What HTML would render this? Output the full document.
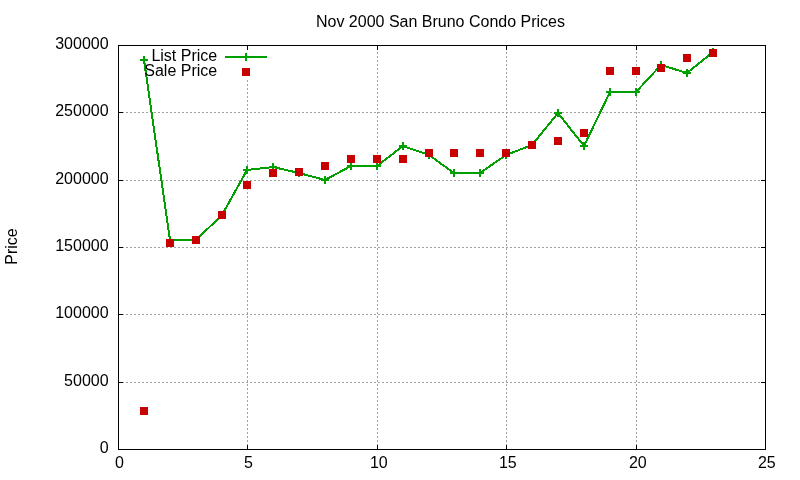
<!DOCTYPE html>
<html lang="en"><head><meta charset="utf-8"><title>Nov 2000 San Bruno Condo Prices</title>
<style>
html,body{margin:0;padding:0;background:#fff;}
body{width:800px;height:480px;overflow:hidden;}
svg{display:block;}
text{font-family:"Liberation Sans",sans-serif;font-size:16px;fill:#000;}
</style></head><body>
<svg width="800" height="480" viewBox="0 0 800 480">
<rect x="0" y="0" width="800" height="480" fill="#ffffff"/>

<g shape-rendering="crispEdges" stroke="#a0a0a0" stroke-width="1" fill="none" stroke-dasharray="2 2">
<line x1="122" y1="382.5" x2="761" y2="382.5"/>
<line x1="122" y1="314.5" x2="761" y2="314.5"/>
<line x1="122" y1="247.5" x2="761" y2="247.5"/>
<line x1="122" y1="180.5" x2="761" y2="180.5"/>
<line x1="122" y1="112.5" x2="761" y2="112.5"/>
<line x1="247.5" y1="80" x2="247.5" y2="445"/>
<line x1="377.5" y1="52" x2="377.5" y2="445"/>
<line x1="506.5" y1="52" x2="506.5" y2="445"/>
<line x1="636.5" y1="52" x2="636.5" y2="445"/>
</g>
<g shape-rendering="crispEdges" stroke="#000" stroke-width="1" fill="none">
<rect x="118.5" y="45.5" width="647" height="404"/>
<line x1="119" y1="449.5" x2="123" y2="449.5"/><line x1="761" y1="449.5" x2="765" y2="449.5"/>
<line x1="119" y1="382.5" x2="123" y2="382.5"/><line x1="761" y1="382.5" x2="765" y2="382.5"/>
<line x1="119" y1="314.5" x2="123" y2="314.5"/><line x1="761" y1="314.5" x2="765" y2="314.5"/>
<line x1="119" y1="247.5" x2="123" y2="247.5"/><line x1="761" y1="247.5" x2="765" y2="247.5"/>
<line x1="119" y1="180.5" x2="123" y2="180.5"/><line x1="761" y1="180.5" x2="765" y2="180.5"/>
<line x1="119" y1="112.5" x2="123" y2="112.5"/><line x1="761" y1="112.5" x2="765" y2="112.5"/>
<line x1="119" y1="45.5" x2="123" y2="45.5"/><line x1="761" y1="45.5" x2="765" y2="45.5"/>
<line x1="118.5" y1="445" x2="118.5" y2="449"/><line x1="118.5" y1="46" x2="118.5" y2="50"/>
<line x1="247.5" y1="445" x2="247.5" y2="449"/><line x1="247.5" y1="46" x2="247.5" y2="50"/>
<line x1="377.5" y1="445" x2="377.5" y2="449"/><line x1="377.5" y1="46" x2="377.5" y2="50"/>
<line x1="506.5" y1="445" x2="506.5" y2="449"/><line x1="506.5" y1="46" x2="506.5" y2="50"/>
<line x1="636.5" y1="445" x2="636.5" y2="449"/><line x1="636.5" y1="46" x2="636.5" y2="50"/>
<line x1="765.5" y1="445" x2="765.5" y2="449"/><line x1="765.5" y1="46" x2="765.5" y2="50"/>
</g>
<text x="440.5" y="26.5" text-anchor="middle">Nov 2000 San Bruno Condo Prices</text>
<text transform="translate(17.2,246.5) rotate(-90)" text-anchor="middle">Price</text>
<text x="108.6" y="453.1" text-anchor="end">0</text>
<text x="108.6" y="386.1" text-anchor="end">50000</text>
<text x="108.6" y="318.1" text-anchor="end">100000</text>
<text x="108.6" y="251.1" text-anchor="end">150000</text>
<text x="108.6" y="184.1" text-anchor="end">200000</text>
<text x="108.6" y="116.1" text-anchor="end">250000</text>
<text x="108.6" y="49.1" text-anchor="end">300000</text>
<text x="119.5" y="468" text-anchor="middle">0</text>
<text x="248.5" y="468" text-anchor="middle">5</text>
<text x="378.8" y="468" text-anchor="middle">10</text>
<text x="507.8" y="468" text-anchor="middle">15</text>
<text x="637.8" y="468" text-anchor="middle">20</text>
<text x="766.8" y="468" text-anchor="middle">25</text>
<text x="217.2" y="60.6" text-anchor="end">List Price</text>
<g shape-rendering="crispEdges"><rect x="225" y="56" width="42" height="2" fill="#00a000"/><rect x="245" y="53" width="2" height="8" fill="#00a000"/></g>
<polyline points="144,60 170,240 196,240 222,215 247,170 273,167 299,173 325,180 351,166 377,166 403,146 429,155 454,173 480,173 506,155 532,145 558,113 584,146 610,92 636,92 661,65 687,73 713,52" fill="none" stroke="#00a000" stroke-width="2" stroke-linejoin="round" shape-rendering="crispEdges"/>
<g shape-rendering="crispEdges" fill="#00a000">
<rect x="140" y="59" width="8" height="2"/><rect x="143" y="56" width="2" height="8"/>
<rect x="166" y="239" width="8" height="2"/><rect x="169" y="236" width="2" height="8"/>
<rect x="192" y="239" width="8" height="2"/><rect x="195" y="236" width="2" height="8"/>
<rect x="218" y="214" width="8" height="2"/><rect x="221" y="211" width="2" height="8"/>
<rect x="243" y="169" width="8" height="2"/><rect x="246" y="166" width="2" height="8"/>
<rect x="269" y="166" width="8" height="2"/><rect x="272" y="163" width="2" height="8"/>
<rect x="295" y="172" width="8" height="2"/><rect x="298" y="169" width="2" height="8"/>
<rect x="321" y="179" width="8" height="2"/><rect x="324" y="176" width="2" height="8"/>
<rect x="347" y="165" width="8" height="2"/><rect x="350" y="162" width="2" height="8"/>
<rect x="373" y="165" width="8" height="2"/><rect x="376" y="162" width="2" height="8"/>
<rect x="399" y="145" width="8" height="2"/><rect x="402" y="142" width="2" height="8"/>
<rect x="425" y="154" width="8" height="2"/><rect x="428" y="151" width="2" height="8"/>
<rect x="450" y="172" width="8" height="2"/><rect x="453" y="169" width="2" height="8"/>
<rect x="476" y="172" width="8" height="2"/><rect x="479" y="169" width="2" height="8"/>
<rect x="502" y="154" width="8" height="2"/><rect x="505" y="151" width="2" height="8"/>
<rect x="528" y="144" width="8" height="2"/><rect x="531" y="141" width="2" height="8"/>
<rect x="554" y="112" width="8" height="2"/><rect x="557" y="109" width="2" height="8"/>
<rect x="580" y="145" width="8" height="2"/><rect x="583" y="142" width="2" height="8"/>
<rect x="606" y="91" width="8" height="2"/><rect x="609" y="88" width="2" height="8"/>
<rect x="632" y="91" width="8" height="2"/><rect x="635" y="88" width="2" height="8"/>
<rect x="657" y="64" width="8" height="2"/><rect x="660" y="61" width="2" height="8"/>
<rect x="683" y="72" width="8" height="2"/><rect x="686" y="69" width="2" height="8"/>
<rect x="709" y="51" width="8" height="2"/><rect x="712" y="48" width="2" height="8"/>
</g>
<text x="217.2" y="75.6" text-anchor="end">Sale Price</text>
<g shape-rendering="crispEdges" fill="#c80000">
<rect x="140" y="407" width="8" height="8"/>
<rect x="166" y="239" width="8" height="8"/>
<rect x="192" y="236" width="8" height="8"/>
<rect x="218" y="211" width="8" height="8"/>
<rect x="243" y="181" width="8" height="8"/>
<rect x="269" y="169" width="8" height="8"/>
<rect x="295" y="168" width="8" height="8"/>
<rect x="321" y="162" width="8" height="8"/>
<rect x="347" y="155" width="8" height="8"/>
<rect x="373" y="155" width="8" height="8"/>
<rect x="399" y="155" width="8" height="8"/>
<rect x="425" y="149" width="8" height="8"/>
<rect x="450" y="149" width="8" height="8"/>
<rect x="476" y="149" width="8" height="8"/>
<rect x="502" y="149" width="8" height="8"/>
<rect x="528" y="141" width="8" height="8"/>
<rect x="554" y="137" width="8" height="8"/>
<rect x="580" y="129" width="8" height="8"/>
<rect x="606" y="67" width="8" height="8"/>
<rect x="632" y="67" width="8" height="8"/>
<rect x="657" y="64" width="8" height="8"/>
<rect x="683" y="54" width="8" height="8"/>
<rect x="709" y="49" width="8" height="8"/>
</g>
<rect shape-rendering="crispEdges" x="242" y="68" width="8" height="8" fill="#c80000"/>
</svg>
</body></html>
